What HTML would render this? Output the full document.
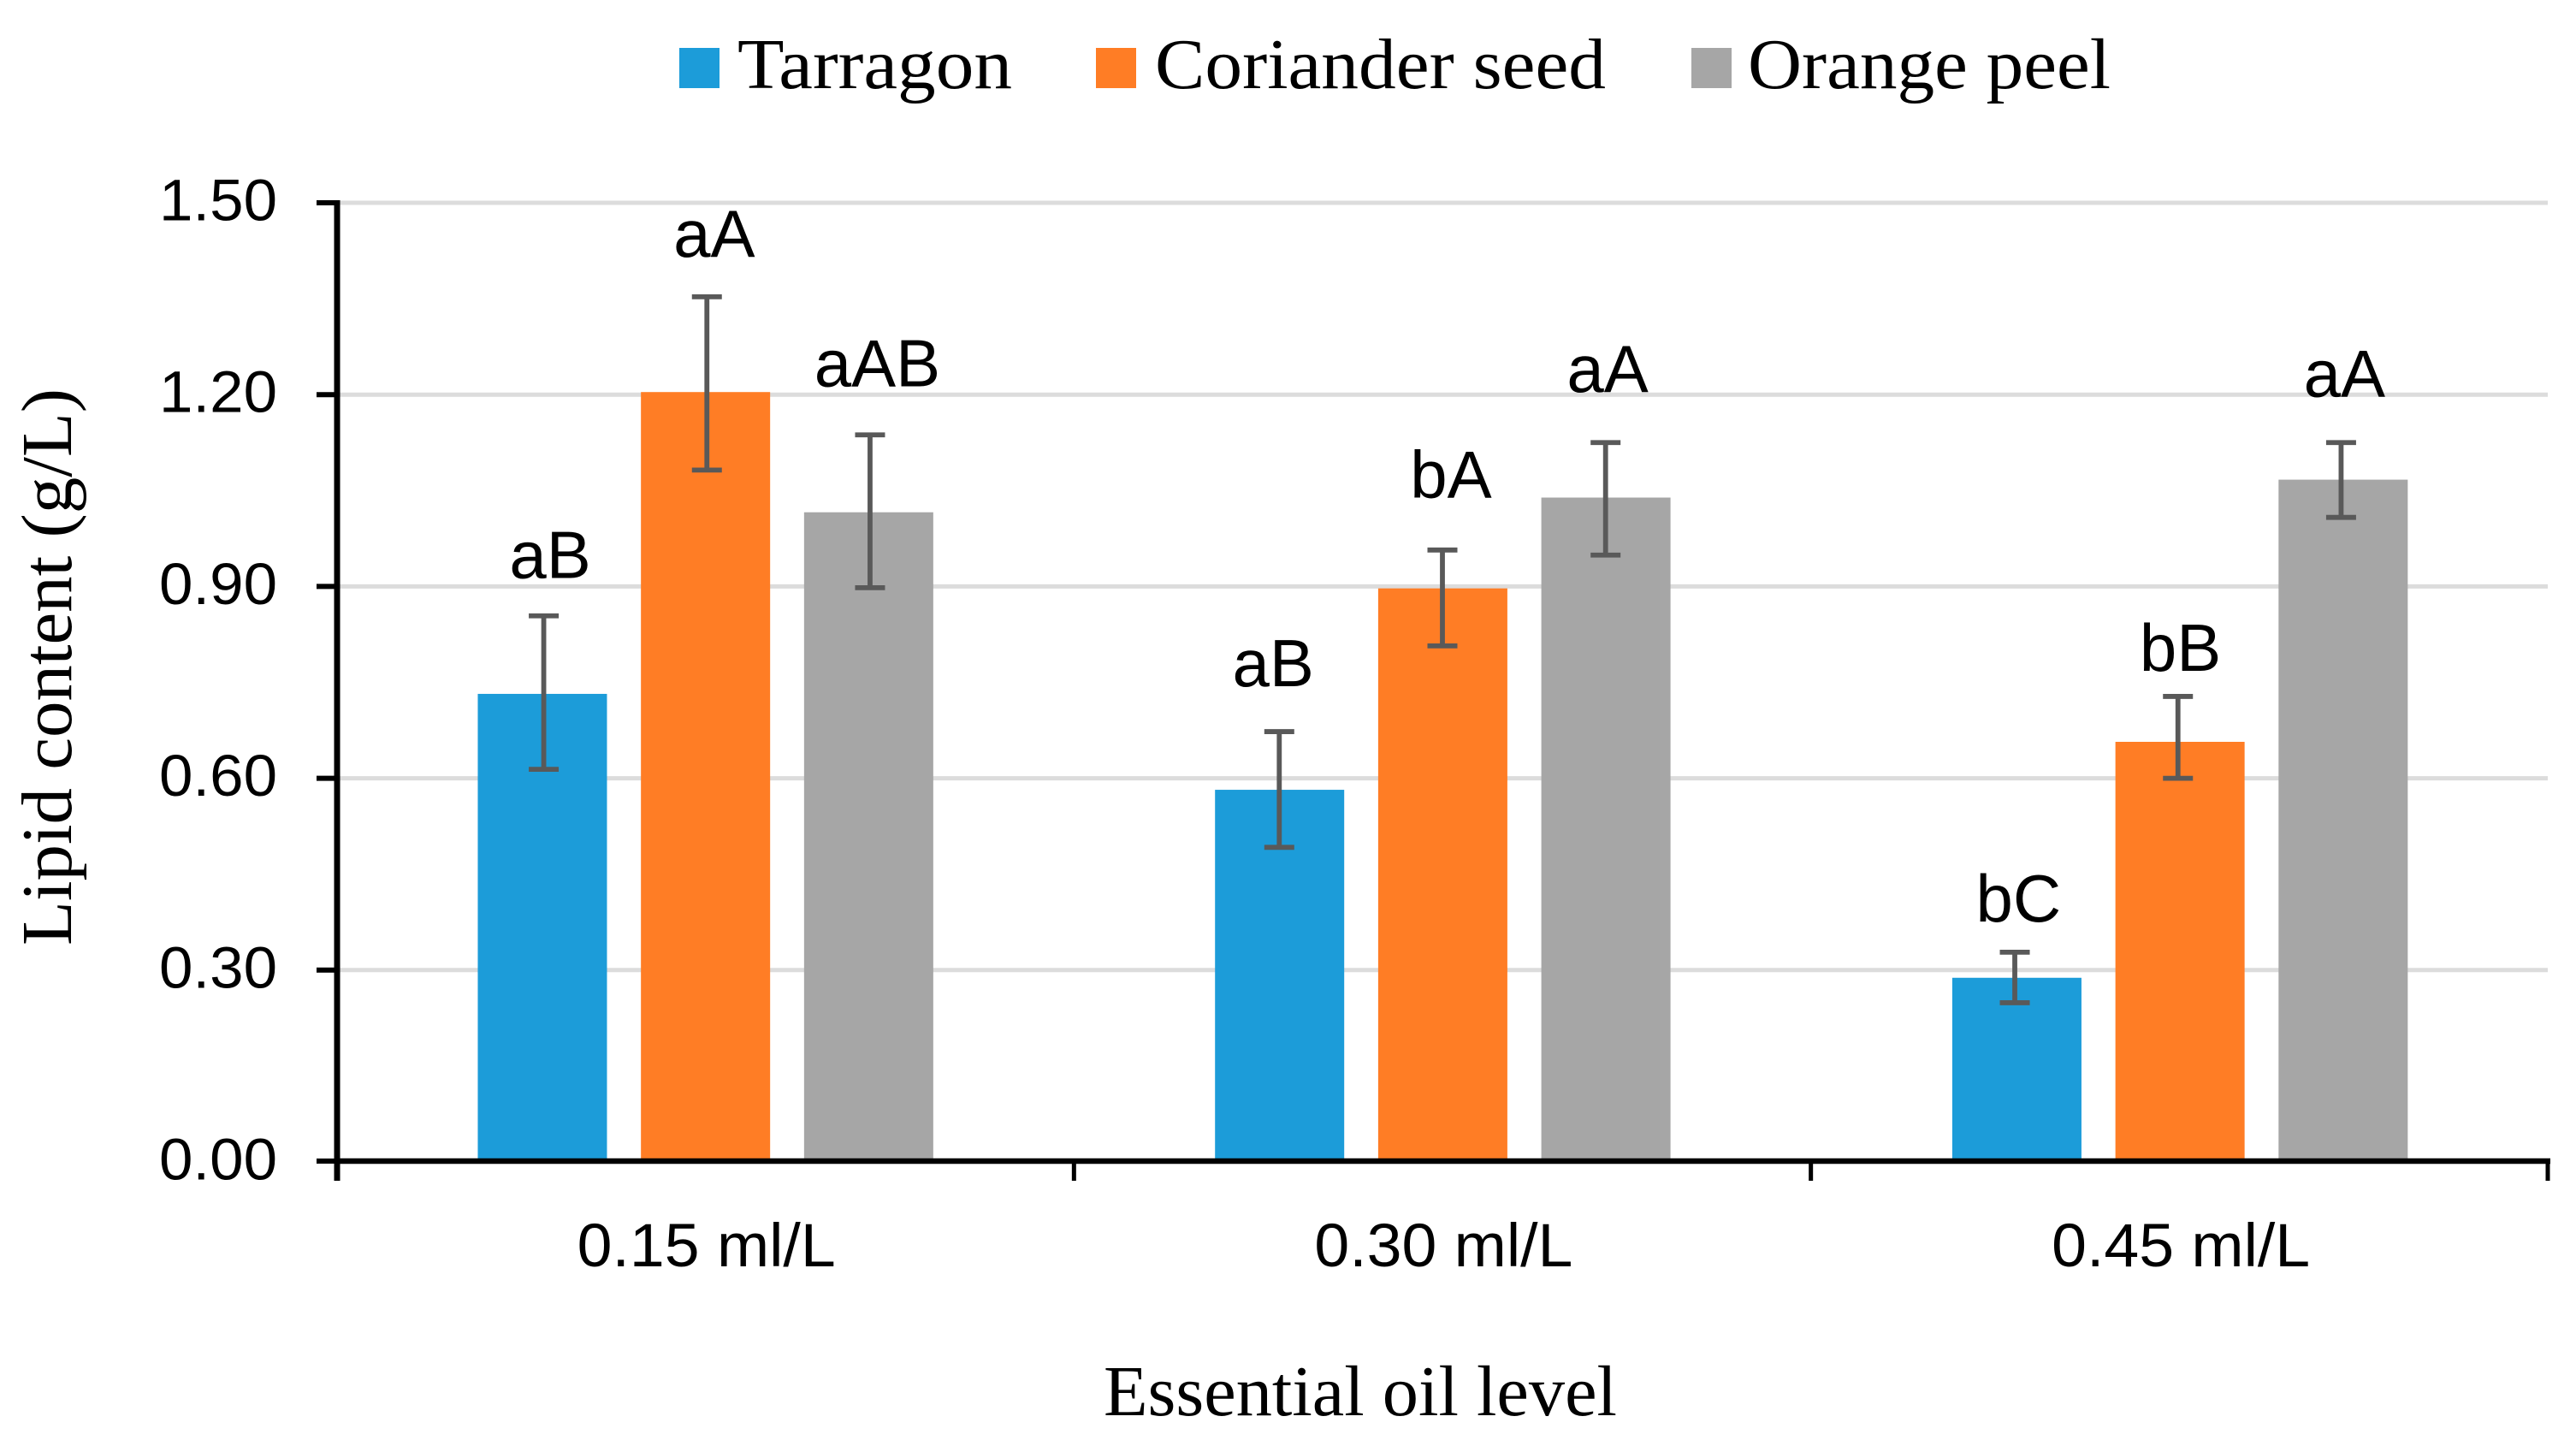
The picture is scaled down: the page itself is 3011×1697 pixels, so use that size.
<!DOCTYPE html>
<html lang="en">
<head>
<meta charset="utf-8">
<title>Lipid content by essential oil level</title>
<style>
html,body{margin:0;padding:0;background:#fff;}
body{width:3011px;height:1697px;overflow:hidden;}
svg{display:block;}
.serif{font-family:"Liberation Serif",serif;fill:#000;}
.sans{font-family:"Liberation Sans",sans-serif;fill:#000;}
</style>
</head>
<body>
<svg id="chart" xmlns="http://www.w3.org/2000/svg" width="3011" height="1697" viewBox="0 0 3011 1697">
  <rect x="0" y="0" width="3011" height="1697" fill="#ffffff"/>
  <g id="grid"></g>
  <g id="bars"></g>
  <g id="errors"></g>
  <g id="axes"></g>
  <g id="labels"></g>
  <g>
    <g>
      <rect x="794" y="56" width="47" height="47" fill="#1c9cd9"/>
      <text class="serif" x="862" y="103" font-size="84" textLength="321" lengthAdjust="spacingAndGlyphs">Tarragon</text>
    </g>
    <g>
      <rect x="1281" y="56" width="47" height="47" fill="#ff7d25"/>
      <text class="serif" x="1350" y="103" font-size="84" textLength="527" lengthAdjust="spacingAndGlyphs">Coriander seed</text>
    </g>
    <g>
      <rect x="1977" y="56" width="47" height="47" fill="#a6a6a6"/>
      <text class="serif" x="2043" y="103" font-size="84" textLength="424" lengthAdjust="spacingAndGlyphs">Orange peel</text>
    </g>
  </g>
  <text class="serif" font-size="84" text-anchor="start" transform="translate(83 1105) rotate(-90)" textLength="651" lengthAdjust="spacingAndGlyphs">Lipid content (g/L)</text>
  <text class="serif" x="1290" y="1654" font-size="84" textLength="600" lengthAdjust="spacingAndGlyphs">Essential oil level</text>
</svg>
<script>
const categories = ['0.15 ml/L', '0.30 ml/L', '0.45 ml/L'];
const seriesKeys = ['tarragon', 'coriander-seed', 'orange-peel'];
const tarragon = [0.732, 0.582, 0.288];
const coriander = [1.204, 0.897, 0.657];
const orangePeel = [1.016, 1.039, 1.067];
const tarragonHigh = [0.854, 0.673, 0.328];
const corianderHigh = [1.353, 0.957, 0.728];
const orangePeelHigh = [1.137, 1.125, 1.125];
const tarragonLow = [0.614, 0.492, 0.249];
const corianderLow = [1.082, 0.807, 0.600];
const orangePeelLow = [0.898, 0.949, 1.008];
const tarragonLetters = ['aB', 'aB', 'bC'];
const corianderLetters = ['aA', 'bA', 'bB'];
const orangePeelLetters = ['aAB', 'aA', 'aA'];
const tarragonLift = [0.059, 0.071, 0.048];
const corianderLift = [0.063, 0.082, 0.040];
const orangePeelLift = [0.076, 0.079, 0.072];
const tarragonDrift = [0.06, -0.05, 0.013];
const corianderDrift = [0.067, 0.063, 0.003];
const orangePeelDrift = [0.067, 0.013, 0.01];
const yTickLabels = ['0.00', '0.30', '0.60', '0.90', '1.20', '1.50'];

const NS = 'http://www.w3.org/2000/svg';
const seriesValues = [tarragon, coriander, orangePeel];
const seriesHigh = [tarragonHigh, corianderHigh, orangePeelHigh];
const seriesLow = [tarragonLow, corianderLow, orangePeelLow];
const seriesLetters = [tarragonLetters, corianderLetters, orangePeelLetters];
const seriesLift = [tarragonLift, corianderLift, orangePeelLift];
const seriesDrift = [tarragonDrift, corianderDrift, orangePeelDrift];
const seriesFill = ['#1c9cd9', '#ff7d25', '#a6a6a6'];

const plotLeft = 394, plotRight = 2978, plotBase = 1358, plotTop = 237, yMax = 1.5;
const barWidth = 151, barStep = 190.7;

function yScale(v) { return plotBase - (v / yMax) * (plotBase - plotTop); }
function bandEdge(i) { return plotLeft + i * (plotRight - plotLeft) / categories.length; }
function groupCenter(i) { return (bandEdge(i) + bandEdge(i + 1)) / 2 + 0.4 * i; }
function barCenter(g, s) { return groupCenter(g) + (s - 1) * barStep; }
function whiskerCenter(g, s) { return barCenter(g, s) + 1.6 - 2 * g; }

function make(tag, parent, attrs) {
  const el = document.createElementNS(NS, tag);
  Object.keys(attrs).forEach(function (k) { el.setAttribute(k, attrs[k]); });
  parent.appendChild(el);
  return el;
}

const gridG = document.getElementById('grid');
const barsG = document.getElementById('bars');
const errG = document.getElementById('errors');
const axesG = document.getElementById('axes');
const labelsG = document.getElementById('labels');

yTickLabels.forEach(function (t) {
  const v = parseFloat(t);
  const y = yScale(v);
  if (v > 0) {
    const g = make('line', gridG, { x1: plotLeft, x2: plotRight, y1: y, y2: y, stroke: '#dcdcdc', 'stroke-width': 5 });
    
    
  }
  const tick = make('line', axesG, { x1: plotLeft - 24, x2: plotLeft, y1: y - (v === 0 ? 1 : 0), y2: y - (v === 0 ? 1 : 0), stroke: '#000', 'stroke-width': 6 });
  
  
  const lab = make('text', axesG, { x: 324, y: y + 20.5, 'font-size': 69, 'text-anchor': 'end', 'class': 'sans', textLength: 138, lengthAdjust: 'spacingAndGlyphs' });
  lab.textContent = t;
  
  
});

categories.forEach(function (cat, g) {
  seriesKeys.forEach(function (key, s) {
    const top = yScale(seriesValues[s][g]);
    const bar = make('rect', barsG, { x: barCenter(g, s) - barWidth / 2, y: top, width: barWidth, height: plotBase - top, fill: seriesFill[s] });
    
    

    const cx = whiskerCenter(g, s);
    const hi = yScale(seriesHigh[s][g]);
    const lo = yScale(seriesLow[s][g]);
    const path = make('path', errG, {
      d: 'M' + cx + ' ' + hi + 'V' + lo + 'M' + (cx - 17.5) + ' ' + hi + 'H' + (cx + 17.5) + 'M' + (cx - 17.5) + ' ' + lo + 'H' + (cx + 17.5),
      fill: 'none', stroke: '#595959', 'stroke-width': 5.8
    });
    
    

    const t = make('text', labelsG, {
      x: barCenter(g, s) + seriesDrift[s][g] * barWidth,
      y: yScale(seriesHigh[s][g] + seriesLift[s][g]),
      'font-size': 78, 'text-anchor': 'middle', 'class': 'sans'
    });
    t.textContent = seriesLetters[s][g];
    
    
  });
  const lab = make('text', axesG, { x: groupCenter(g) + 1, y: 1480, 'font-size': 71, 'text-anchor': 'middle', 'class': 'sans', textLength: 302, lengthAdjust: 'spacingAndGlyphs' });
  lab.textContent = cat;
  
  
});

const yAxis = make('line', axesG, { x1: plotLeft, x2: plotLeft, y1: plotTop - 3, y2: 1380, stroke: '#000', 'stroke-width': 7 });


const xAxis = make('line', axesG, { x1: plotLeft, x2: plotRight + 3, y1: plotBase - 1, y2: plotBase - 1, stroke: '#000', 'stroke-width': 6.5 });


for (let i = 1; i <= categories.length; i++) {
  const tick = make('line', axesG, { x1: bandEdge(i), x2: bandEdge(i), y1: plotBase - 1, y2: 1380, stroke: '#000', 'stroke-width': 5 });
  
  
}
</script>
</body>
</html>
